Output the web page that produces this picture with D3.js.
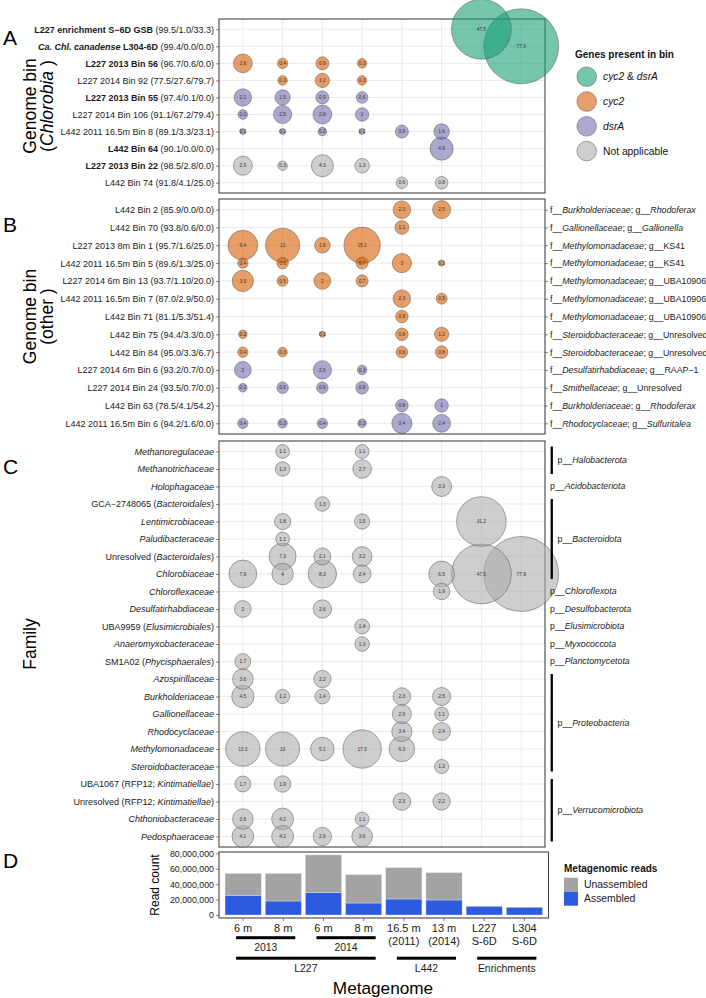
<!DOCTYPE html>
<html><head><meta charset="utf-8">
<script src="https://cdn.jsdelivr.net/npm/d3@7"></script>
<style>body{margin:0;background:#fff} svg{display:block;font-family:"Liberation Sans",Arial,sans-serif} text{white-space:pre}</style>
</head><body><svg id="c" width="706" height="998"></svg>
<script>
const _ = null;
const metagenomes = ["L227 2013 6m","L227 2013 8m","L227 2014 6m","L227 2014 8m","L442 2011 16.5m","L442 2014 13m","L227 S-6D","L304 S-6D"];

// Panel A
const chlorobiaBins = [
"**L227 enrichment S−6D GSB** (99.5/1.0/33.3)",
"***Ca. Chl. canadense*** **L304-6D** (99.4/0.0/0.0)",
"**L227 2013 Bin 56** (96.7/0.6/0.0)",
"L227 2014 Bin 92 (77.5/27.6/79.7)",
"**L227 2013 Bin 55** (97.4/0.1/0.0)",
"L227 2014 Bin 106 (91.1/67.2/79.4)",
"L442 2011 16.5m Bin 8 (89.1/3.3/23.1)",
"**L442 Bin 64** (90.1/0.0/0.0)",
"**L227 2013 Bin 22** (98.5/2.8/0.0)",
"L442 Bin 74 (91.8/4.1/25.0)"];
const chlorobiaGenes = ["both","both","cyc2","cyc2","dsrA","dsrA","dsrA","dsrA","na","na"];
const chlorobiaValues = [
[_,_,_,_,_,_,47.5,_],
[_,_,_,_,_,_,_,77.9],
[2.8,0.4,0.9,0.3,_,_,_,_],
[_,0.3,1.2,0.3,_,_,_,_],
[2.2,1.5,0.9,0.6,_,_,_,_],
[0.3,2.5,2.8,1,_,_,_,_],
[0.1,0.1,0.2,0.1,0.9,1.6,_,_],
[_,_,_,_,_,4.9,_,_],
[2.9,0.3,4.3,1.3,_,_,_,_],
[_,_,_,_,0.6,0.8,_,_]];

// Panel B
const otherBins = [
"L442 Bin 2 (85.9/0.0/0.0)",
"L442 Bin 70 (93.8/0.6/0.0)",
"L227 2013 8m Bin 1 (95.7/1.6/25.0)",
"L442 2011 16.5m Bin 5 (89.6/1.3/25.0)",
"L227 2014 6m Bin 13 (93.7/1.10/20.0)",
"L442 2011 16.5m Bin 7 (87.0/2.9/50.0)",
"L442 Bin 71 (81.1/5.3/51.4)",
"L442 Bin 75 (94.4/3.3/0.0)",
"L442 Bin 84 (95.0/3.3/6.7)",
"L227 2014 6m Bin 6 (93.2/0.7/0.0)",
"L227 2014 Bin 24 (93.5/0.7/0.0)",
"L442 Bin 63 (78.5/4.1/54.2)",
"L442 2011 16.5m Bin 6 (94.2/1.6/0.0)"];
const otherTaxonomy = [
"f__*Burkholderiaceae*; g__*Rhodoferax*",
"f__*Gallionellaceae*; g__*Gallionella*",
"f__*Methylomonadaceae*; g__KS41",
"f__*Methylomonadaceae*; g__KS41",
"f__*Methylomonadaceae*; g__UBA10906",
"f__*Methylomonadaceae*; g__UBA10906",
"f__*Methylomonadaceae*; g__UBA10906",
"f__*Steroidobacteraceae*; g__Unresolved",
"f__*Steroidobacteraceae*; g__Unresolved",
"f__*Desulfatirhabdiaceae*; g__RAAP−1",
"f__*Smithellaceae*; g__Unresolved",
"f__*Burkholderiaceae*; g__*Rhodoferax*",
"f__*Rhodocyclaceae*; g__*Sulfuritalea*"];
const otherGenes = ["cyc2","cyc2","cyc2","cyc2","cyc2","cyc2","cyc2","cyc2","cyc2","dsrA","dsrA","dsrA","dsrA"];
const otherValues = [
[_,_,_,_,2.3,2.5,_,_],
[_,_,_,_,1.1,_,_,_],
[9.4,13,1.6,15.1,_,_,_,_],
[0.4,0.6,_,0.7,3,0.1,_,_],
[3.9,0.5,2,0.7,_,_,_,_],
[_,_,_,_,2.3,0.5,_,_],
[_,_,_,_,0.8,_,_,_],
[0.2,_,0.1,_,0.8,1.2,_,_],
[0.4,0.3,_,_,0.6,0.8,_,_],
[2,_,2.6,0.3,_,_,_,_],
[0.2,0.6,0.6,0.8,_,_,_,_],
[_,_,_,_,0.8,1,_,_],
[0.4,0.3,0.4,0.2,3.4,2.4,_,_]];

// Panel C
const families = [
"*Methanoregulaceae*","*Methanotrichaceae*","*Holophagaceae*","GCA−2748065 (*Bacteroidales*)",
"*Lentimicrobiaceae*","*Paludibacteraceae*","Unresolved (*Bacteroidales*)","*Chlorobiaceae*",
"*Chloroflexaceae*","*Desulfatirhabdiaceae*","UBA9959 (*Elusimicrobiales*)","*Anaeromyxobacteraceae*",
"SM1A02 (*Phycisphaerales*)","*Azospirillaceae*","*Burkholderiaceae*","*Gallionellaceae*",
"*Rhodocyclaceae*","*Methylomonadaceae*","*Steroidobacteraceae*","UBA1067 (RFP12; *Kintimatiellae*)",
"Unresolved (RFP12; *Kintimatiellae*)","*Chthoniobacteraceae*","*Pedosphaeraceae*"];
const familyPhylum = ["Halobacterota","Halobacterota","Acidobacteriota","Bacteroidota","Bacteroidota","Bacteroidota","Bacteroidota","Bacteroidota",
"Chloroflexota","Desulfobacterota","Elusimicrobiota","Myxococcota","Planctomycetota",
"Proteobacteria","Proteobacteria","Proteobacteria","Proteobacteria","Proteobacteria","Proteobacteria",
"Verrucomicrobiota","Verrucomicrobiota","Verrucomicrobiota","Verrucomicrobiota"];
const familyValues = [
[_,1.1,_,1.1,_,_,_,_],
[_,1.3,_,2.7,_,_,_,_],
[_,_,_,_,_,3.3,_,_],
[_,_,1.3,_,_,_,_,_],
[_,1.8,_,1.5,_,_,31.2,_],
[_,1.1,_,_,_,_,_,_],
[_,7.3,2.1,3.2,_,_,_,_],
[7.9,4,8.3,2.4,_,6.5,47.5,77.9],
[_,_,_,_,_,1.9,_,_],
[2,_,2.6,_,_,_,_,_],
[_,_,_,1.4,_,_,_,_],
[_,_,_,1.3,_,_,_,_],
[1.7,_,_,_,_,_,_,_],
[3.6,_,2.2,_,_,_,_,_],
[4.5,1.2,1.4,_,2.3,2.5,_,_],
[_,_,_,_,2.9,1.1,_,_],
[_,_,_,_,3.4,2.4,_,_],
[13.3,13,5.1,17.3,6.3,_,_,_],
[_,_,_,_,_,1.2,_,_],
[1.7,1.9,_,_,_,_,_,_],
[_,_,_,_,2.3,2.2,_,_],
[3.6,4.2,_,1.1,_,_,_,_],
[4.1,4.2,2.6,3.6,_,_,_,_]];

// Panel D
const readLabels = ["6 m","8 m","6 m","8 m","16.5 m|(2011)","13 m|(2014)","L227|S-6D","L304|S-6D"];
const assembledReads = [25.6e6,18.2e6,29.0e6,15.6e6,20.8e6,19.5e6,11.3e6,10.0e6];
const unassembledReads = [28.5e6,35.8e6,49.0e6,36.8e6,40.7e6,35.5e6,0,0];
const readTicks = [0,20e6,40e6,60e6,80e6];
const groupLevel1 = [["2013",0,1],["2014",2,3]];
const groupLevel2 = [["L227",0,3],["L442",4,5],["Enrichments",6,7]];

const geneKeys = ["both","cyc2","dsrA","na"];
const geneLabels = ["*cyc2* & *dsrA*","*cyc2*","*dsrA*","Not applicable"];
const geneColors = {both:"#1B9E77", cyc2:"#D95F02", dsrA:"#7570B3", na:"#ADADAD"};

// ---------- drawing ----------
const svg = d3.select("#c");
const L = 219, R = 545;
const x = d3.scalePoint().domain(metagenomes).range([L, R]).padding(0.6);
const sz = d3.scaleSqrt().domain([0, 77.8]).range([0, 34.5]);
const radius = v => 3 + sz(Math.max(0, v - 0.1));

function rich(sel, str) {
  str.split(/(\*\*\*[^*]+\*\*\*|\*\*[^*]+\*\*|\*[^*]+\*)/).filter(s => s.length).forEach(p => {
    let w = "normal", st = "normal", t = p;
    if (p.startsWith("***")) { w = "bold"; st = "italic"; t = p.slice(3, -3); }
    else if (p.startsWith("**")) { w = "bold"; t = p.slice(2, -2); }
    else if (p.startsWith("*")) { st = "italic"; t = p.slice(1, -1); }
    sel.append("tspan").attr("font-weight", w).attr("font-style", st).text(t);
  });
}

function bubblePanel(rows, values, genes, top, bottom, rightLabels) {
  const g = svg.append("g");
  const y = d3.scalePoint().domain(d3.range(rows.length)).range([top, bottom]).padding(0.6);
  g.selectAll(".gx").data(metagenomes).join("line")
    .attr("x1", d => x(d)).attr("x2", d => x(d)).attr("y1", top).attr("y2", bottom)
    .attr("stroke", "#EBEBEB").attr("stroke-width", 1);
  g.selectAll(".gy").data(rows.map((r, i) => i)).join("line")
    .attr("x1", L).attr("x2", R).attr("y1", i => y(i)).attr("y2", i => y(i))
    .attr("stroke", "#EBEBEB").attr("stroke-width", 1);
  g.append("rect").attr("x", L).attr("y", top).attr("width", R - L).attr("height", bottom - top)
    .attr("fill", "none").attr("stroke", "#444").attr("stroke-width", 1.1);
  const ax = g.append("g").attr("transform", `translate(${L},0)`)
    .call(d3.axisLeft(y).tickSize(3).tickPadding(2).tickFormat(() => ""));
  ax.select(".domain").remove();
  ax.selectAll(".tick line").attr("stroke", "#333").attr("stroke-width", 0.6);
  ax.selectAll(".tick text").each(function (i) {
    const t = d3.select(this).attr("font-size", 9).attr("fill", "#1a1a1a").attr("font-family", null).attr("dy", "0.33em");
    rich(t, rows[i]);
  });
  if (rightLabels) {
    const ar = g.append("g").attr("transform", `translate(${R},0)`)
      .call(d3.axisRight(y).tickSize(3).tickPadding(2).tickFormat(() => ""));
    ar.select(".domain").remove();
    ar.selectAll(".tick line").attr("stroke", "#333").attr("stroke-width", 0.6);
    ar.selectAll(".tick text").each(function (i) {
      const t = d3.select(this).attr("font-size", 8.8).attr("fill", "#1a1a1a").attr("font-family", null).attr("dy", "0.33em");
      rich(t, rightLabels[i]);
    });
  }
  const pts = [];
  values.forEach((row, i) => row.forEach((v, j) => { if (v !== null) pts.push({i, j, v, gene: genes[i]}); }));
  pts.sort((a, b) => b.v - a.v);
  g.selectAll("circle.b").data(pts).join("circle")
    .attr("cx", d => x(metagenomes[d.j])).attr("cy", d => y(d.i)).attr("r", d => radius(d.v))
    .attr("fill", d => geneColors[d.gene]).attr("fill-opacity", 0.6)
    .attr("stroke", "#555").attr("stroke-width", 0.5);
  g.selectAll("text.b").data(pts).join("text")
    .attr("x", d => x(metagenomes[d.j])).attr("y", d => y(d.i)).attr("dy", "0.35em")
    .attr("text-anchor", "middle").attr("font-size", 4.8).attr("fill", "#333").text(d => d.v);
  return y;
}

bubblePanel(chlorobiaBins, chlorobiaValues, chlorobiaGenes, 19, 193, null);
bubblePanel(otherBins, otherValues, otherGenes, 199, 434, otherTaxonomy);
const yC = bubblePanel(families, familyValues, familyValues.map(() => "na"), 441, 847, null);

const groups = [];
familyPhylum.forEach((p, i) => {
  if (groups.length && groups[groups.length - 1].name === p) groups[groups.length - 1].last = i;
  else groups.push({name: p, first: i, last: i});
});
groups.forEach(gr => {
  const y0 = yC(gr.first), y1 = yC(gr.last);
  const multi = gr.last > gr.first;
  if (multi) svg.append("rect").attr("x", 550.6).attr("y", y0 - 5).attr("width", 2.3).attr("height", y1 - y0 + 10).attr("fill", "#000");
  const t = svg.append("text").attr("x", multi ? 557.5 : 550).attr("y", (y0 + y1) / 2).attr("dy", "0.33em")
    .attr("font-size", 8.8).attr("fill", "#1a1a1a");
  rich(t, "p__*" + gr.name + "*");
});

const lg = svg.append("g");
lg.append("text").attr("x", 575).attr("y", 58).attr("font-size", 10).attr("font-weight", "bold").attr("fill", "#111").text("Genes present in bin");
geneKeys.forEach((k, i) => {
  const cy = 76.7 + i * 24.8;
  lg.append("circle").attr("cx", 586.7).attr("cy", cy).attr("r", 9.8)
    .attr("fill", geneColors[k]).attr("fill-opacity", 0.6).attr("stroke", "#555").attr("stroke-width", 0.5);
  const t = lg.append("text").attr("x", 603).attr("y", cy).attr("dy", "0.35em").attr("font-size", 10.3).attr("fill", "#111");
  rich(t, geneLabels[i]);
});

[["A", 45], ["B", 232], ["C", 474], ["D", 868]].forEach(([l, yy]) =>
  svg.append("text").attr("x", 3).attr("y", yy).attr("font-size", 21).attr("fill", "#000").text(l));

function yTitle(lines, cy, x0) {
  lines.forEach((ln, k) => {
    const t = svg.append("text").attr("transform", `translate(${x0 + k * 17},${cy}) rotate(-90)`)
      .attr("text-anchor", "middle").attr("font-size", 17.5).attr("fill", "#000");
    rich(t, ln);
  });
}
yTitle(["Genome bin", "(*Chlorobia* )"], 106, 36);
yTitle(["Genome bin", "(other )"], 316.5, 36);
yTitle(["Family"], 644, 36);

// ---------- Panel D ----------
const DT = 852, DB = 918, DR = 548.5;
const xb = d3.scaleBand().domain(metagenomes).range([L, DR]).paddingInner(0.1).paddingOuter(0.15);
const yD = d3.scaleLinear().domain([0, 80e6]).range([915, 853.4]);
const stackData = metagenomes.map((m, i) => ({m, Assembled: assembledReads[i], Unassembled: unassembledReads[i]}));
const series = d3.stack().keys(["Assembled", "Unassembled"])(stackData);
const readColors = {Assembled: "#2C5BE0", Unassembled: "#A3A3A3"};
const gD = svg.append("g");
series.forEach(s => {
  gD.selectAll(null).data(s).join("rect")
    .attr("x", d => xb(d.data.m)).attr("width", xb.bandwidth())
    .attr("y", d => yD(d[1])).attr("height", d => Math.max(0, yD(d[0]) - yD(d[1])))
    .attr("fill", readColors[s.key]).attr("stroke", "#e6e6e6").attr("stroke-width", 0.4);
});
gD.append("rect").attr("x", L).attr("y", DT).attr("width", DR - L).attr("height", DB - DT)
  .attr("fill", "none").attr("stroke", "#444").attr("stroke-width", 1.1);
const ayD = gD.append("g").attr("transform", `translate(${L},0)`)
  .call(d3.axisLeft(yD).tickValues(readTicks).tickFormat(d3.format(",")).tickSize(3).tickPadding(2));
ayD.select(".domain").remove();
ayD.selectAll(".tick line").attr("stroke", "#333").attr("stroke-width", 0.6);
ayD.selectAll(".tick text").attr("font-size", 8.8).attr("fill", "#1a1a1a").attr("font-family", null);
const axD = gD.append("g").attr("transform", `translate(0,${DB})`)
  .call(d3.axisBottom(xb).tickSize(3).tickPadding(2).tickFormat(() => ""));
axD.select(".domain").remove();
axD.selectAll(".tick line").attr("stroke", "#333").attr("stroke-width", 0.6);
axD.selectAll(".tick text").each(function (d, i) {
  const t = d3.select(this).attr("font-size", 11).attr("fill", "#1a1a1a").attr("font-family", null).attr("dy", null).attr("y", 14);
  readLabels[i].split("|").forEach((ln, k) => t.append("tspan").attr("x", 0).attr("dy", k ? 12.5 : 0).text(ln));
});
gD.append("text").attr("transform", `translate(159,885) rotate(-90)`).attr("text-anchor", "middle")
  .attr("font-size", 12).attr("fill", "#000").text("Read count");

function groupLines(groups, ly, ty) {
  groups.forEach(([name, a, b]) => {
    const x0 = xb(metagenomes[a]) + xb.bandwidth() / 2 - 7, x1 = xb(metagenomes[b]) + xb.bandwidth() / 2 + 12;
    svg.append("rect").attr("x", x0).attr("y", ly - 1.5).attr("width", x1 - x0).attr("height", 3).attr("fill", "#000");
    svg.append("text").attr("x", (x0 + x1) / 2).attr("y", ty).attr("text-anchor", "middle")
      .attr("font-size", 10.4).attr("fill", "#1a1a1a").text(name);
  });
}
groupLines(groupLevel1, 937.7, 951);
groupLines(groupLevel2, 958.2, 971.5);
svg.append("text").attr("x", 383).attr("y", 993.5).attr("text-anchor", "middle").attr("font-size", 17.2).attr("fill", "#000").text("Metagenome");

const ld = svg.append("g");
ld.append("text").attr("x", 564).attr("y", 871.5).attr("font-size", 10).attr("font-weight", "bold").attr("fill", "#111").text("Metagenomic reads");
[["Unassembled", 877.7], ["Assembled", 891.7]].forEach(([k, yy]) => {
  ld.append("rect").attr("x", 564).attr("y", yy).attr("width", 14).attr("height", 14).attr("fill", readColors[k]);
  ld.append("text").attr("x", 584).attr("y", yy + 7).attr("dy", "0.35em").attr("font-size", 10.4).attr("fill", "#1a1a1a").text(k);
});
</script></body></html>
